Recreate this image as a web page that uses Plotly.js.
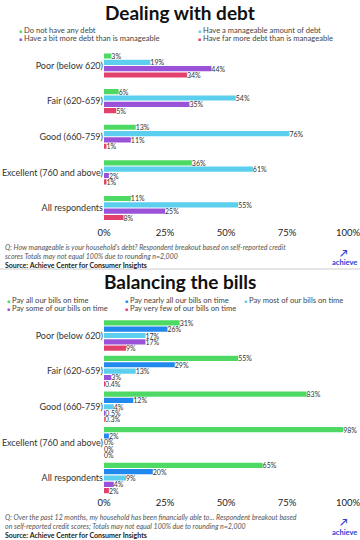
<!DOCTYPE html>
<html><head><meta charset="utf-8">
<script src="https://cdn.plot.ly/plotly-3.0.1.min.js"></script>
<style>html,body{margin:0;padding:0;background:#fff}#chart{width:360px;height:540px}</style>
</head><body><div id="chart"></div>
<script>
const categories = ['Poor (below 620)','Fair (620-659)','Good (660-759)','Excellent (760 and above)','All respondents'];

const debtSeries = ['Do not have any debt','Have a manageable amount of debt','Have a bit more debt than is manageable','Have far more debt than is manageable'];
const debtNone = [3, 6, 13, 36, 11];
const debtManageable = [19, 54, 76, 61, 55];
const debtBitMore = [44, 35, 11, 2, 25];
const debtFarMore = [34, 5, 1, 1, 8];

const billsSeries = ['Pay all our bills on time','Pay nearly all our bills on time','Pay most of our bills on time','Pay some of our bills on time','Pay very few of our bills on time'];
const billsAll = [31, 55, 83, 98, 65];
const billsNearlyAll = [26, 29, 12, 2, 20];
const billsMost = [17, 13, 4, 0, 9];
const billsSome = [17, 3, 0.5, 0, 4];
const billsVeryFew = [9, 0.4, 0.3, 0, 2];

const xTickVals = [0, 25, 50, 75, 100];
const xTickText = ['0%', '25%', '50%', '75%', '100%'];

const FONT = "Lato, 'Open Sans', sans-serif";
const W = 360, H = 540;
const px = p => p / W;
const py = p => 1 - p / H;

const GREEN = '#4ed964', CYAN = '#5ccfee', PURPLE = '#9a52d9', RED = '#e2416b', BLUE = '#2188ee';
const debtColors = [GREEN, CYAN, PURPLE, RED];
const billsColors = [GREEN, BLUE, CYAN, PURPLE, RED];

const PITCH = 0.178, BARW = 0.145;

function makeTraces(seriesNames, seriesVals, colors, xa, ya) {
  const n = seriesVals.length;
  return seriesVals.map((vals, i) => ({
    type: 'bar', orientation: 'h', name: seriesNames[i],
    x: vals, y: categories, xaxis: xa, yaxis: ya,
    marker: {color: colors[i]},
    width: BARW,
    offset: (i - (n - 1) / 2) * PITCH - BARW / 2,
    text: vals.map(v => v + '%'),
    textposition: 'outside', constraintext: 'none', cliponaxis: false,
    textfont: {family: FONT, size: 7, color: '#333'},
    hoverinfo: 'skip', showlegend: false
  }));
}

const data = [].concat(
  makeTraces(debtSeries, [debtNone, debtManageable, debtBitMore, debtFarMore], debtColors, 'x', 'y'),
  makeTraces(billsSeries, [billsAll, billsNearlyAll, billsMost, billsSome, billsVeryFew], billsColors, 'x2', 'y2')
);

const xCommon = {
  range: [0, 100], tickvals: xTickVals, ticktext: xTickText,
  showgrid: false, zeroline: false, showline: false, ticks: '',
  ticklabeloverflow: 'allow',
  tickfont: {family: FONT, size: 9.5, color: '#222'}, fixedrange: true,
  domain: [px(104), px(348)]
};
const yCommon = {
  type: 'category', categoryarray: categories, range: [4.5, -0.5],
  showgrid: false, zeroline: false, showline: false, ticks: '',
  tickfont: {family: FONT, size: 9, color: '#333'}, fixedrange: true
};

const annotations = [];
function ann(text, x, y, opts) {
  annotations.push(Object.assign({
    xref: 'paper', yref: 'paper', x: px(x), y: py(y), text: text,
    showarrow: false, xanchor: 'left', yanchor: 'middle', align: 'left',
    font: {family: FONT, size: 7.6, color: '#444'}
  }, opts || {}));
}

// Titles
ann('<b>Dealing with debt</b>', 180, 12, {xanchor: 'center', align: 'center', font: {family: FONT, size: 19, color: '#111'}});
ann('<b>Balancing the bills</b>', 180, 281, {xanchor: 'center', align: 'center', font: {family: FONT, size: 19, color: '#111'}});

// Legends (chart 1)
const leg1 = [[17, 30], [196, 30], [17, 38], [196, 38]];
debtSeries.forEach((s, i) => {
  ann('<span style="color:' + debtColors[i] + ';font-size:5px">■</span> ' + s, leg1[i][0], leg1[i][1]);
});
// Legends (chart 2)
const leg2 = [[5, 300], [123, 300], [242, 300], [5, 307.5], [123, 307.5]];
billsSeries.forEach((s, i) => {
  ann('<span style="color:' + billsColors[i] + ';font-size:5px">■</span> ' + s, leg2[i][0], leg2[i][1]);
});

// Footnotes with source
const SRC = '<span style="color:#222"><b>Source: Achieve Center for Consumer Insights</b></span>';
ann("<i>Q: How manageable is your household's debt? Respondent breakout based on self-reported credit</i><br><i>scores Totals may not equal 100% due to rounding n=2,000</i><br>" + SRC, 3, 256, {font: {family: FONT, size: 7, color: '#555'}});
ann("<i>Q: Over the past 12 months, my household has been financially able to... Respondent breakout based</i><br><i>on self-reported credit scores; Totals may not equal 100% due to rounding n=2,000</i><br>" + SRC, 3, 526, {font: {family: FONT, size: 7, color: '#555'}});

// Logos
[[253, 262], [522, 532]].forEach(([iy, ty]) => {
  ann('<b>↗</b>', 344, iy, {xanchor: 'center', align: 'center', font: {family: FONT, size: 10, color: '#2a3fd0'}});
  ann('<b>achieve</b>', 344, ty, {xanchor: 'center', align: 'center', font: {family: FONT, size: 7.5, color: '#2a3fd0'}});
});

const layout = {
  width: W, height: H,
  margin: {l: 0, r: 0, t: 0, b: 0},
  paper_bgcolor: '#fff', plot_bgcolor: '#fff',
  barmode: 'overlay', showlegend: false,
  font: {family: FONT, color: '#333'},
  xaxis: Object.assign({}, xCommon, {anchor: 'y'}),
  yaxis: Object.assign({}, yCommon, {anchor: 'x', domain: [py(225.8), py(47.7)]}),
  xaxis2: Object.assign({}, xCommon, {anchor: 'y2'}),
  yaxis2: Object.assign({}, yCommon, {anchor: 'x2', domain: [py(495.8), py(317.7)]}),
  annotations: annotations,
  shapes: [{type: 'line', xref: 'paper', yref: 'paper', x0: 0, x1: 1, y0: py(269), y1: py(269), line: {color: '#cccccc', width: 1}}]
};

Plotly.newPlot('chart', data, layout, {displayModeBar: false, staticPlot: true});
</script>
</body></html>
